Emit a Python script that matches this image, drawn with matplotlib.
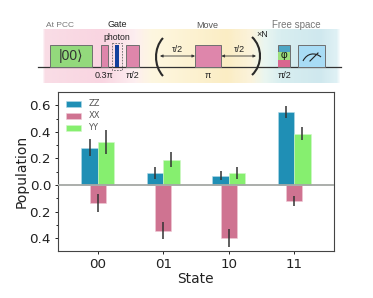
import numpy as np
import matplotlib
matplotlib.use("Agg")
import matplotlib.pyplot as plt
from matplotlib.colors import LinearSegmentedColormap
from matplotlib.patches import Rectangle, FancyArrowPatch, PathPatch
from matplotlib.path import Path

states = ["00", "01", "10", "11"]
zz = [0.28, 0.09, 0.07, 0.55]
xx = [0.135, 0.344, 0.40, 0.12]
yy = [0.325, 0.19, 0.09, 0.385]
zz_err = [0.065, 0.042, 0.035, 0.042]
xx_err = [0.065, 0.065, 0.068, 0.036]
yy_err = [0.088, 0.058, 0.045, 0.049]
y_ticks = [-0.4, -0.2, 0.0, 0.2, 0.4, 0.6]
y_labels = ["0.4", "0.2", "0.0", "0.2", "0.4", "0.6"]

W, H = 373, 298
fig = plt.figure(figsize=(W / 100, H / 100), dpi=100)

# ---------- schematic, drawn in pixel coordinates ----------
s = fig.add_axes([0, 0, 1, 1], zorder=0)
s.set_xlim(0, W); s.set_ylim(H, 0); s.axis("off")
cmap = LinearSegmentedColormap.from_list("bg", [
    (0.00, "#ffffff"), (0.01, "#f9dde6"), (0.20, "#f9d5e1"), (0.31, "#fdeef0"),
    (0.37, "#fef7e0"), (0.62, "#fbedc4"), (0.70, "#fbf3dc"), (0.745, "#eaf6f0"),
    (0.80, "#d8eef0"), (0.93, "#cfe8ee"), (0.985, "#dff1f5"), (1.00, "#ffffff")])
s.imshow(np.linspace(0, 1, 300)[None, :], cmap=cmap, aspect="auto",
         extent=(41, 342, 83, 29), zorder=0)
s.set_xlim(0, W); s.set_ylim(H, 0)
s.plot([38, 341], [67.3, 67.3], color="#333333", lw=0.9, zorder=1)

def box(x0, x1, fc, y0=45, y1=67, z=2):
    s.add_patch(Rectangle((x0, y0), x1 - x0, y1 - y0, fc=fc, ec="#6f6f6f", lw=0.7, zorder=z))

pink = "#de86ab"
box(50, 92, "#93d97c")
box(100.5, 107.5, pink)
box(126, 139, pink)
box(195, 221, pink)
s.add_patch(Rectangle((111.5, 43), 10.5, 26.5, fc="none", ec="#666666", lw=0.6, ls=(0, (2, 1.5)), zorder=2))
s.add_patch(Rectangle((115, 45), 4, 22, fc="#123f9c", ec="none", zorder=3))
box(277.5, 290, "#4da6c4")
s.add_patch(Rectangle((278, 52), 11.5, 8, fc="#9ce07c", ec="none", zorder=3))
s.add_patch(Rectangle((278, 60), 11.5, 7, fc="#d9668f", ec="none", zorder=3))
box(298, 325, "#a8dcf5")
s.add_patch(PathPatch(Path([(303, 61), (307, 53), (315, 52), (321, 57)],
                           [Path.MOVETO, Path.CURVE4, Path.CURVE4, Path.CURVE4]),
                      fc="none", ec="#222222", lw=0.8, zorder=4))
s.plot([310, 318], [61, 53], color="#222222", lw=0.8, zorder=4)

for xc, ctrl, y0, y1 in [(163, 153.7, 38, 76), (252, 262.7, 37, 75)]:
    verts = [(xc, y0), (ctrl, y0 + 10), (ctrl, y1 - 10), (xc, y1)]
    s.add_patch(PathPatch(Path(verts, [Path.MOVETO, Path.CURVE4, Path.CURVE4, Path.CURVE4]),
                          fc="none", ec="#2a2a2a", lw=1.5, zorder=3))
for x0, x1 in [(160, 195), (221.5, 256)]:
    s.add_patch(FancyArrowPatch((x0, 56), (x1, 56), arrowstyle="<|-|>", mutation_scale=4,
                                lw=0.6, color="#333333", shrinkA=0, shrinkB=0, zorder=3))

font = ["Liberation Sans", "DejaVu Sans"]
def label(x, y, t, size=6.5, color="#222222"):
    s.text(x, y, t, fontsize=size, color=color, ha="center", va="center", family=font, zorder=5)

label(59.5, 25.5, "At PCC", 6, "#777777")
label(117, 24.5, "Gate", 6.5)
label(117, 37, "photon", 6.3)
label(207.5, 25.5, "Move", 6.5, "#555555")
label(296, 24.5, "Free space", 7, "#777777")
label(71, 56, "|00⟩", 10, "#333333")
label(104, 75, "0.3π", 6.5)
label(132.5, 75, "π/2", 6.5)
label(177, 50, "τ/2", 6.5)
label(239, 50, "τ/2", 6.5)
label(208, 75, "π", 6.5)
label(284, 75, "π/2", 6.5)
label(262.5, 34.5, "×N", 6.5)
label(284, 55.5, "φ", 7.5, "#111111")

# ---------- bar chart ----------
ax = fig.add_axes([58 / W, 1 - 251 / H, (333.5 - 58) / W, (251 - 92) / H], zorder=1)
pos = np.arange(len(states))
w = 0.25
ebar = dict(ecolor="#333333", elinewidth=1.1, capsize=0)
ax.bar(pos - w / 2, zz, w, yerr=zz_err, color="#1f8fb5", edgecolor="#b5dbe8", linewidth=0.4, label="ZZ",
       error_kw=ebar)
ax.bar(pos, -np.array(xx), w, yerr=xx_err, color="#cf7391", edgecolor="#efcbd7", linewidth=0.4, label="XX",
       error_kw=ebar)
ax.bar(pos + w / 2, yy, w, yerr=yy_err, color="#86ef6f", edgecolor="#d2f7c8", linewidth=0.4, label="YY",
       error_kw=ebar)
ax.axhline(0, color="#a5a8a5", lw=1.3, zorder=5)
ax.set_xlim(-0.606, 3.6)
ax.set_ylim(-0.497, 0.70)
ax.set_xticks(pos, states)
ax.set_yticks(y_ticks, y_labels)
ax.set_yticks([-0.3, -0.1, 0.1, 0.3, 0.5], minor=True)
ax.tick_params(labelsize=9.7, length=2.5, width=0.7, pad=2.5, colors="#222222")
ax.tick_params(which="minor", length=1.6, width=0.6)
ax.set_xlabel("State", fontsize=9.9, labelpad=1.0, color="#222222")
ax.set_ylabel("Population", fontsize=10, labelpad=0.5, color="#222222")
for sp in ax.spines.values():
    sp.set_color("#444444"); sp.set_linewidth(0.8)
ax.legend(loc="upper left", fontsize=6, frameon=False, handlelength=1.9, handleheight=0.72,
          labelspacing=0.36, borderaxespad=0.45, borderpad=0.45, handletextpad=0.85, labelcolor="#555555")

fig.savefig("out.png", dpi=100)
